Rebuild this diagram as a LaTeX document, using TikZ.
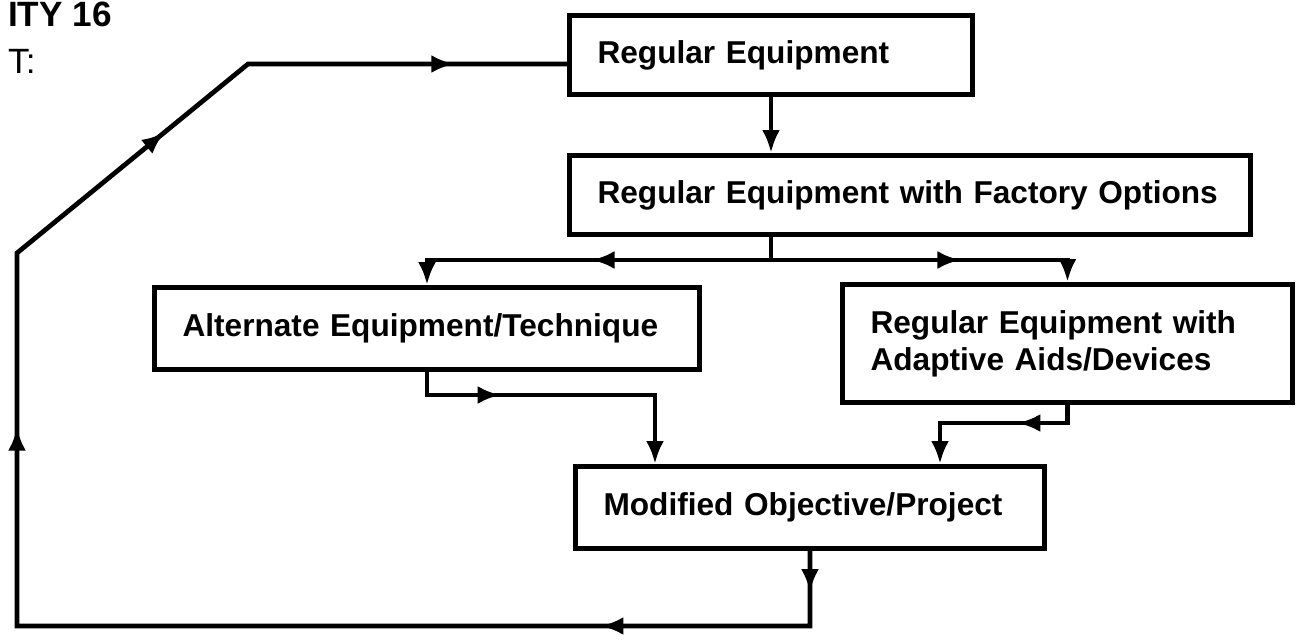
\documentclass[tikz,border=0pt]{standalone}
\usepackage{fontspec}
\setmainfont{Liberation Sans}
\usepackage{tikz}
\usetikzlibrary{arrows.meta,decorations.markings}
\tikzset{
  % Base box
  BX/.style={rectangle,draw,line width=2.9pt,anchor=north west,
             align=left,inner xsep=0.56cm,inner ysep=0pt,
             font=\fontsize{18}{21}\selectfont\bfseries},
  % Arrow tip
  tipA/.tip={Latex[length=0.46cm,width=0.36cm]},
  % Arrow
  arr/.style={-tipA,line width=2.7pt},
  ln/.style={line width=2.7pt},
  % Tip part way along a line
  midA/.style={postaction={decorate,decoration={markings,
               mark=at position #1 with {\arrow{tipA}}}}}
}

\begin{document}
\begin{tikzpicture}[x=0.02cm,y=-0.02cm]
  \path[fill=white,use as bounding box] (0,0) rectangle (1296,643);

  \node[anchor=base west,font=\fontsize{20}{24}\selectfont\bfseries] (hdr) at (2,26) {ITY 16};
  \node[anchor=base west,font=\fontsize{20}{24}\selectfont]          (sub) at (2,73) {T:};

  \node[BX,text width=6.94cm,minimum height=1.58cm] (reg) at (567,13)  {Regular Equipment};
  \node[BX,text width=12.5cm,minimum height=1.58cm] (fac) at (567,153) {Regular Equipment with Factory Options};
  \node[BX,text width=9.78cm,minimum height=1.64cm] (alt) at (152,285) {Alternate Equipment/Technique};
  \node[BX,text width=7.88cm,minimum height=2.36cm] (ada) at (840,282) {Regular Equipment with\\Adaptive Aids/Devices};
  \node[BX,text width=8.26cm,minimum height=1.64cm] (mod) at (573,464) {Modified Objective/Project};

  \coordinate (lvl)   at (0,260);
  \coordinate (altdn) at (655,395);
  \coordinate (adadn) at (940,423);
  \coordinate (lpb)   at (17,626);
  \coordinate (lpm)   at (17,253);
  \coordinate (lpt)   at (248,64);
  \coordinate (jn)    at (reg.south |- lvl);

  \draw[arr](reg)--(reg |- fac.north);
  \draw[ln](jn |- fac.south)--(jn);
  \draw[arr,midA=3.59cm](jn) -| (alt.north);
  \draw[arr,midA=3.79cm](jn) -| (ada.north);
  \draw[arr,midA=1.93cm](alt.south) |- (altdn) -- (altdn |- mod.north);
  \draw[arr,midA=1.36cm](ada.south) |- (adadn) -- (adadn |- mod.north);
  \draw[ln,midA=0.82cm,midA=5.69cm,midA=21.33cm,midA=28.64cm,midA=34.92cm]
    (mod.south) -- (mod.south |- lpb) -- (lpb) -- (lpm) -- (lpt) -- (lpt -| reg.west);
\end{tikzpicture}
\end{document}
